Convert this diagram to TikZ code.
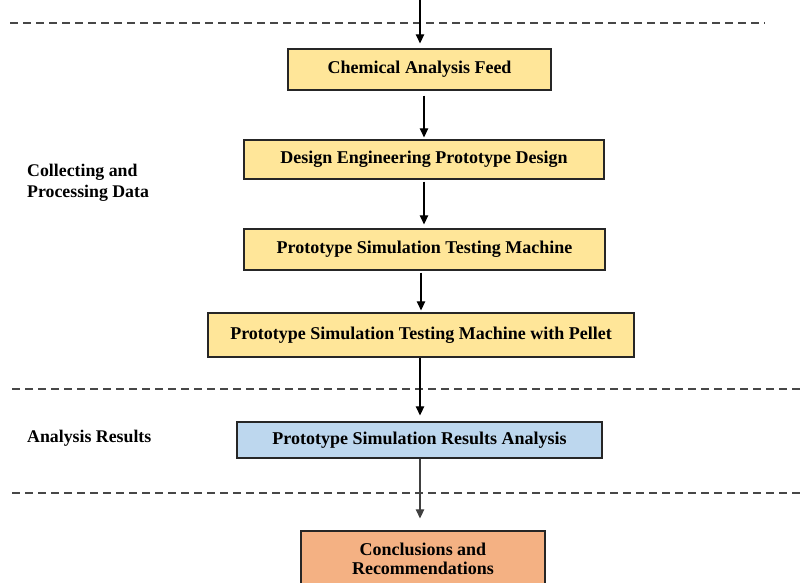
\documentclass[tikz,border=0pt]{standalone}
\usepackage{fontspec}
\setmainfont{Liberation Serif}
\usetikzlibrary{arrows.meta}
\definecolor{boxyellow}{HTML}{FFE699}
\definecolor{boxblue}{HTML}{BDD7EE}
\definecolor{boxorange}{HTML}{F4B183}
\begin{document}
\begin{tikzpicture}[x=1pt,y=-1pt,
  stepbox/.style={draw=black!85,line width=1.3pt,inner sep=0pt,
    font=\fontsize{18}{19.5}\selectfont\bfseries,align=center},
  arr/.style={line width=1.2pt,-{Triangle[length=9pt,width=8.5pt]}},
  sep/.style={draw=black!72,line width=1.4pt,dash pattern=on 8pt off 5pt},
  lab/.style={anchor=west,align=left,font=\fontsize{17.8}{21}\selectfont\bfseries,inner sep=0pt}]
\useasboundingbox (0,0) rectangle (805,583);
% boxes
\node[stepbox,fill=boxyellow,minimum width=263pt,minimum height=41pt] (b1) at (419.5,69.5) {Chemical Analysis Feed};
\node[stepbox,fill=boxyellow,minimum width=360pt,minimum height=39pt] (b2) at (424,159.5) {Design Engineering Prototype Design};
\node[stepbox,fill=boxyellow,minimum width=361pt,minimum height=41pt] (b3) at (424.5,249.5) {Prototype Simulation Testing Machine};
\node[stepbox,fill=boxyellow,minimum width=426pt,minimum height=44pt] (b4) at (421,335) {Prototype Simulation Testing Machine with Pellet};
\node[stepbox,fill=boxblue,minimum width=365pt,minimum height=36pt] (b5) at (419.5,440) {Prototype Simulation Results Analysis};
\node[stepbox,fill=boxorange,minimum width=244pt,minimum height=56pt] (b6) at (423,559) {Conclusions and\\Recommendations};
% labels
\node[lab] (l1) at (27,183) {Collecting and\\Processing Data};
\node[lab] (l2) at (27,438) {Analysis Results};
% separators
\coordinate (s1a) at (10,23); \coordinate (s1b) at (765,23);
\coordinate (s2a) at (12,389); \coordinate (s2b) at (805,389);
\coordinate (s3a) at (12,493); \coordinate (s3b) at (805,493);
\draw[sep] (s1a) -- (s1b);
\draw[sep] (s2a) -- (s2b);
\draw[sep] (s3a) -- (s3b);
% connectors
\coordinate (top) at (420,0);
\coordinate (c1) at (424,0);
\coordinate (c2) at (424,0);
\coordinate (c3) at (421,0);
\coordinate (c4) at (420,0);
\coordinate (c5) at (420,0);
\draw[arr,shorten >=5pt] (top) -- (b1.north -| top);
\draw[arr,shorten <=5pt,shorten >=2pt] (b1.south -| c1) -- (b2.north -| c1);
\draw[arr,shorten <=2pt,shorten >=4pt] (b2.south -| c2) -- (b3.north -| c2);
\draw[arr,shorten <=2pt,shorten >=2pt] (b3.south -| c3) -- (b4.north -| c3);
\draw[arr,shorten >=6pt] (b4.south -| c4) -- (b5.north -| c4);
\draw[arr,draw=black!75,fill=black!75,shorten >=12pt] (b5.south -| c5) -- (b6.north -| c5);
\end{tikzpicture}
\end{document}
